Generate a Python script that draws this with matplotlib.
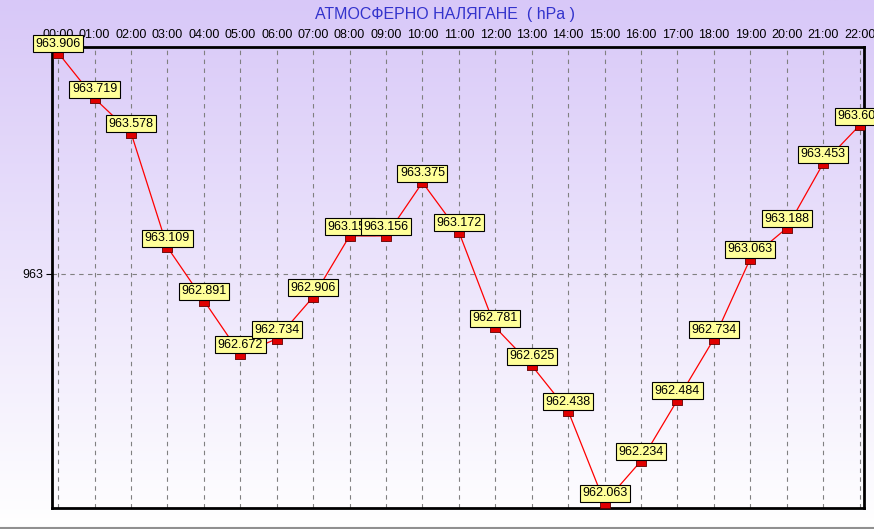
import matplotlib
matplotlib.use('Agg')
import matplotlib.pyplot as plt
import numpy as np
from matplotlib.lines import Line2D

plt.rcParams['font.family'] = ['Liberation Sans', 'DejaVu Sans']

# data
hours = ["00:00", "01:00", "02:00", "03:00", "04:00", "05:00", "06:00", "07:00",
         "08:00", "09:00", "10:00", "11:00", "12:00", "13:00", "14:00", "15:00",
         "16:00", "17:00", "18:00", "19:00", "20:00", "21:00", "22:00"]
pressure = [963.906, 963.719, 963.578, 963.109, 962.891, 962.672, 962.734, 962.906,
            963.156, 963.156, 963.375, 963.172, 962.781, 962.625, 962.438, 962.063,
            962.234, 962.484, 962.734, 963.063, 963.188, 963.453, 963.609]
ytick_vals = [963]
title = "АТМОСФЕРНО НАЛЯГАНЕ  ( hPa )"

fig = plt.figure(figsize=(8.74, 5.29), dpi=100)

# background gradient: lavender at top fading to white
bg = fig.add_axes([0, 0, 1, 1], zorder=-10)
top = np.array([216, 200, 248]) / 255.0
bot = np.array([255, 255, 255]) / 255.0
t = np.linspace(0, 1, 256)[:, None]
grad = top * (1 - t) + bot * t
bg.imshow(grad[:, None, :].repeat(2, axis=1), aspect='auto', extent=[0, 1, 0, 1],
          origin='upper')
bg.axis('off')

ax = fig.add_axes([52 / 874, 21 / 529, (864 - 52) / 874, (508 - 47) / 529])
ax.patch.set_alpha(0)

x = np.arange(len(hours))
# small rectangle, sitting a bit below the point like the original chart
rect = [(-1, -1.0), (1, -1.0), (1, 0.12), (-1, 0.12), (-1, -1.0)]
ax.plot(x, pressure, color='#ff0000', lw=0.9, zorder=3)
ax.plot(x, pressure, ls='none', marker=rect, markersize=7,
        markerfacecolor='#e00000', markeredgecolor='#600000', markeredgewidth=0.6, zorder=4)

for xi, v in zip(x, pressure):
    ax.annotate("%.3f" % v, (xi, v), xytext=(0, 2.3), textcoords='offset points',
                ha='center', va='bottom', fontsize=9, zorder=6, annotation_clip=False,
                bbox=dict(boxstyle='square,pad=0.2', facecolor='#ffff99',
                          edgecolor='black', linewidth=0.8))

ax.set_xlim(-0.17, 22.12)
ax.set_ylim(962.041, 963.930)
ax.set_xticks(x)
ax.set_xticklabels(hours, fontsize=9)
ax.xaxis.tick_top()
ax.tick_params(axis='x', length=0, pad=4)
ax.set_yticks(ytick_vals)
ax.set_yticklabels([str(v) for v in ytick_vals], fontsize=9)
ax.tick_params(axis='y', length=4, width=0.8, pad=2)

ax.grid(True, color='#808080', ls=(0, (4, 4)), lw=0.8)
for s in ax.spines.values():
    s.set_linewidth(2)
    s.set_color('black')

fig.text(0.509, 1 - 15 / 529, title, ha='center', va='center',
         fontsize=11.5, color='#3333cc')

fig.add_artist(Line2D([0, 1], [1.5 / 529, 1.5 / 529], color='#909090', lw=1.5))

plt.savefig('out.png', dpi=100)
